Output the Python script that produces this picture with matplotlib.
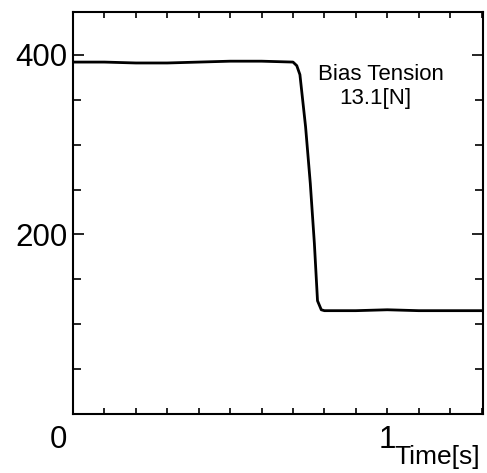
import numpy as np
import matplotlib.pyplot as plt
from matplotlib.ticker import MultipleLocator
import matplotlib.transforms as mtransforms

# tension trace
time_s = [0.0, 0.1, 0.2, 0.3, 0.4, 0.5, 0.6, 0.70, 0.712, 0.722,
          0.74, 0.755, 0.768, 0.778, 0.79, 0.80, 0.9, 1.0, 1.1, 1.2, 1.305]
tension = [392, 392, 391, 391, 392, 393, 393, 392, 388, 378,
           320, 257, 190, 126, 116, 115, 115, 116, 115, 115, 115]

xticks = [0, 1]
xtick_labels = ['0', '1']
yticks = [200, 400]
ytick_labels = ['200', '400']

plt.rcParams['font.family'] = ['Liberation Sans', 'DejaVu Sans']

fig = plt.figure(figsize=(4.87, 4.73), dpi=100)
ax = fig.add_axes([0.150, 0.125, 0.842, 0.850])

ax.plot(time_s, tension, color='black', linewidth=2.0)

ax.set_xlim(0, 1.305)
ax.set_ylim(0, 448)

ax.set_xticks(xticks)
ax.set_xticklabels(xtick_labels)
ax.set_yticks(yticks)
ax.set_yticklabels(ytick_labels)
ax.xaxis.set_minor_locator(MultipleLocator(0.1))
ax.yaxis.set_minor_locator(MultipleLocator(50))

ax.tick_params(which='both', direction='in', top=True, right=True,
               width=1.2, labelsize=22.5)
ax.tick_params(axis='y', which='major', length=8, pad=4)
ax.tick_params(axis='y', which='minor', length=6)
ax.tick_params(axis='x', which='both', length=4, pad=8)

# the "0" sits left of the corner, shared by both axes
offset = mtransforms.ScaledTranslation(-15 / 100, 0, fig.dpi_scale_trans)
lbl0 = ax.get_xticklabels()[0]
lbl0.set_transform(lbl0.get_transform() + offset)

for s in ax.spines.values():
    s.set_linewidth(1.5)

ax.text(0.98, 378, 'Bias Tension', fontsize=16, ha='center', va='center')
ax.text(0.962, 351, '13.1[N]', fontsize=16, ha='center', va='center')

fig.text(0.897, 0.033, 'Time[s]', fontsize=19, ha='center', va='center')

fig.savefig('out.png', dpi=100)
